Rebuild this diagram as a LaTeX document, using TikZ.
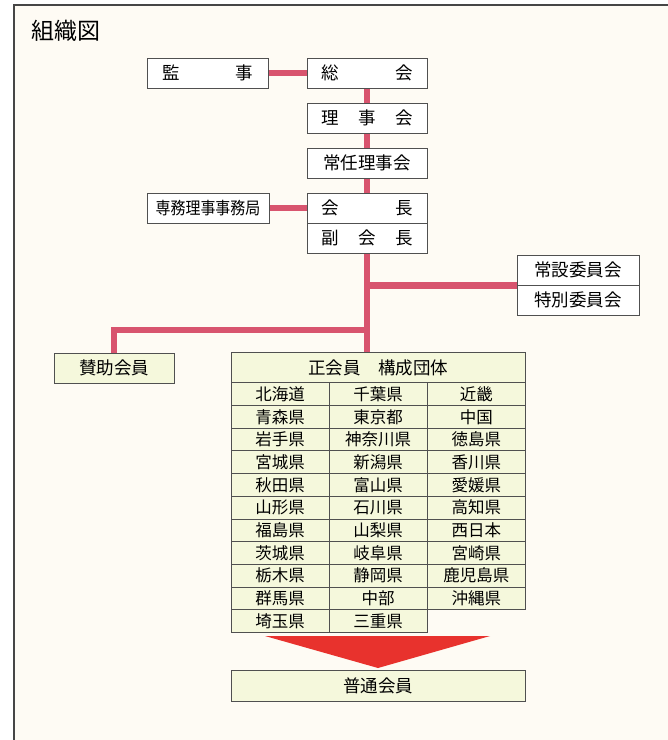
\documentclass[tikz,border=0pt]{standalone}
\usepackage{fontspec}
\usepackage{graphicx}
\setmainfont{Noto Sans CJK JP}
\usetikzlibrary{backgrounds}
\definecolor{cream}{RGB}{254,251,244}
\definecolor{frameline}{RGB}{70,70,70}
\definecolor{boxline}{RGB}{80,80,80}
\definecolor{conncol}{RGB}{216,84,110}
\definecolor{tablefill}{RGB}{245,248,220}
\definecolor{arrowred}{RGB}{232,50,45}
\tikzset{
  orgbox/.style={draw=boxline, fill=white, line width=0.8pt, minimum width=121pt,
    minimum height=30pt, inner sep=0pt, font=\fontsize{17.5}{17.5}\selectfont},
  greenbox/.style={orgbox, fill=tablefill},
  cell/.style={draw=boxline, fill=tablefill, line width=0.8pt, minimum width=98.2pt,
    minimum height=22.7pt, inner sep=0pt, font=\fontsize{16.5}{16.5}\selectfont},
  conn/.style={draw=conncol, line width=6.5pt},
}
\begin{document}
\begin{tikzpicture}[x=1pt,y=-1pt]
\useasboundingbox (0,0) rectangle (668,740);
\node[anchor=north west, inner sep=0pt, font=\fontsize{23}{23}\selectfont] (title) at (31,20) {組織図};

\node[orgbox, minimum width=121pt] (kansa) at (207.5,73) {\makebox[91pt]{監\hfill 事}};
\node[orgbox, minimum width=120pt] (sokai) at (367,73) {\makebox[91pt]{総\hfill 会}};
\node[orgbox, minimum width=120pt] (rijikai) at (367,118) {\makebox[91pt]{理\hfill 事\hfill 会}};
\node[orgbox, minimum width=120pt] (jonin) at (367,163) {\makebox[91pt]{常任理事会}};
\node[orgbox, minimum width=122pt, font=\fontsize{17}{17}\selectfont] (senmu) at (208,208) {\scalebox{0.88}[1]{専務理事事務局}};
\node[orgbox, minimum width=120pt] (kaicho) at (367,208) {\makebox[91pt]{会\hfill 長}};
\node[orgbox, minimum width=120pt] (fuku) at (367,238) {\makebox[91pt]{副\hfill 会\hfill 長}};
\node[orgbox, minimum width=122pt] (josetsu) at (578,270) {常設委員会};
\node[orgbox, minimum width=122pt] (tokubetsu) at (578,300) {特別委員会};
\node[greenbox, minimum width=120pt] (sanjo) at (114,368) {賛助会員};
\node[greenbox, minimum width=294.5pt, minimum height=30pt] (header) at (378.25,367.7) {正会員　構成団体};

% table cells
\foreach \r/\a/\b/\c in {
  1/北海道/千葉県/近畿,
  2/青森県/東京都/中国,
  3/岩手県/神奈川県/徳島県,
  4/宮城県/新潟県/香川県,
  5/秋田県/富山県/愛媛県,
  6/山形県/石川県/高知県,
  7/福島県/山梨県/西日本,
  8/茨城県/岐阜県/宮崎県,
  9/栃木県/静岡県/鹿児島県,
  10/群馬県/中部/沖縄県}{
  \node[cell] (c\r-1) at (280,{394.05+22.7*(\r-1)}) {\a};
  \node[cell] (c\r-2) at (378.2,{394.05+22.7*(\r-1)}) {\b};
  \node[cell] (c\r-3) at (476.4,{394.05+22.7*(\r-1)}) {\c};
}
\node[cell] (c11-1) at (280,{394.05+22.7*10}) {埼玉県};
\node[cell] (c11-2) at (378.2,{394.05+22.7*10}) {三重県};

% big arrow
\fill[arrowred] (265,636) -- (490,636) -- (378,668) -- cycle;

\node[greenbox, minimum width=294.5pt, minimum height=31pt] (futsu) at (378.25,686) {普通会員};

\begin{scope}[on background layer]
\fill[white] (0,0) rectangle (668,740);
\fill[cream] (14,5) rectangle (668,740);
\draw[frameline, line width=1.3pt] (14,740) -- (14,5) -- (668,5);
\draw[conn] (kansa.east) -- (sokai.west);
\draw[conn] (sokai.south) -- (rijikai.north);
\draw[conn] (rijikai.south) -- (jonin.north);
\draw[conn] (jonin.south) -- (kaicho.north);
\draw[conn] (senmu.east) -- (kaicho.west);
\draw[conn] (fuku.south) -- (fuku.south |- header.north);
\draw[conn] (fuku.south |- josetsu.south) -- (josetsu.south west);
\coordinate (br2) at (367,330);
\draw[conn] (br2 -| fuku.south) -- (br2 -| sanjo.north) -- (sanjo.north);
\end{scope}
\end{tikzpicture}
\end{document}
